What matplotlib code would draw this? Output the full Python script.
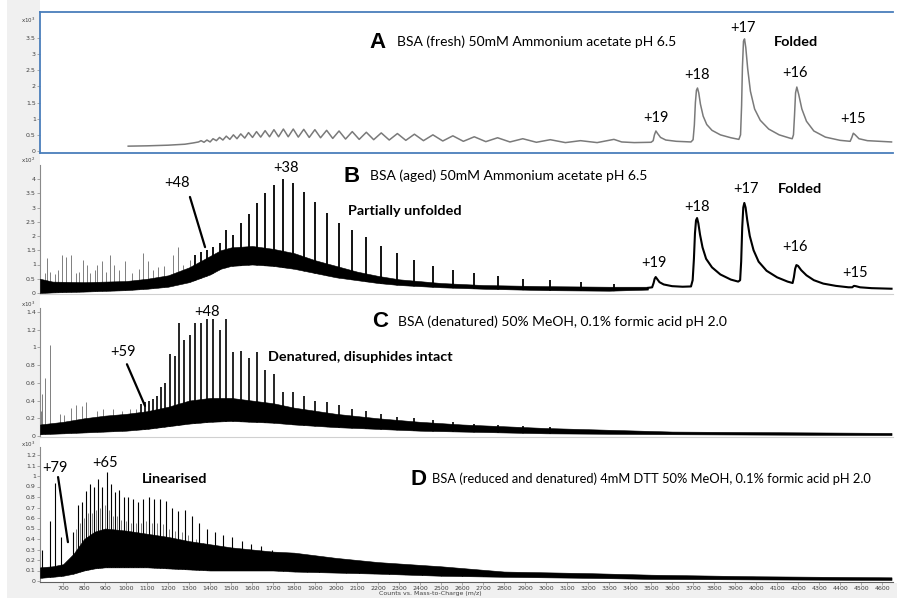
import matplotlib
matplotlib.use('Agg')
import matplotlib.pyplot as plt
from matplotlib.patches import Rectangle
from matplotlib.ticker import FuncFormatter

# ---------------- data ----------------
# A: fresh BSA, smooth trace (m/z, counts x10^3)
a_mz = [1010, 1100, 1200, 1280, 1320, 1345,
        1357, 1371, 1385, 1400, 1414, 1430, 1445, 1461, 1477, 1494, 1511, 1528,
        1546, 1565, 1583, 1602, 1621, 1641, 1662, 1683, 1704, 1726, 1749, 1772,
        1796, 1820, 1846, 1872, 1899, 1926, 1955, 1984, 2014, 2045, 2077, 2110,
        2144, 2179, 2215, 2253, 2292, 2332, 2373, 2416, 2461, 2508, 2556, 2606,
        2658, 2713, 2769, 2828, 2889, 2954, 3020, 3092, 3164, 3243, 3323, 3360,
        3420, 3500, 3510, 3516, 3523, 3530, 3545, 3570, 3620, 3690, 3700, 3706,
        3711, 3716, 3721, 3727, 3735, 3748, 3765, 3790, 3830, 3880, 3918, 3926,
        3931, 3935, 3940, 3945, 3951, 3960, 3973, 3993, 4020, 4060, 4110, 4160,
        4172, 4178, 4183, 4188, 4194, 4203, 4218, 4240, 4275, 4330, 4400, 4448,
        4456, 4463, 4472, 4490, 4530, 4645]
a_int = [0.15, 0.16, 0.18, 0.21, 0.25, 0.28,
         0.32, 0.27, 0.34, 0.28, 0.38, 0.32, 0.42, 0.34, 0.46, 0.36, 0.5, 0.38,
         0.53, 0.4, 0.57, 0.42, 0.6, 0.43, 0.63, 0.44, 0.66, 0.44, 0.68, 0.44,
         0.68, 0.43, 0.67, 0.42, 0.66, 0.41, 0.64, 0.39, 0.62, 0.37, 0.6, 0.36,
         0.58, 0.35, 0.56, 0.34, 0.54, 0.33, 0.52, 0.32, 0.5, 0.31, 0.47, 0.3,
         0.44, 0.29, 0.41, 0.28, 0.38, 0.27, 0.35, 0.26, 0.32, 0.26, 0.36, 0.28,
         0.26, 0.27, 0.32, 0.5, 0.62, 0.55, 0.42, 0.34, 0.3, 0.28, 0.35, 0.8,
         1.5, 1.88, 1.95, 1.8, 1.45, 1.08, 0.82, 0.64, 0.5, 0.41, 0.36, 0.5,
         1.4, 2.6, 3.4, 3.47, 3.2, 2.55, 1.85, 1.3, 0.95, 0.68, 0.5, 0.4,
         0.38, 0.5, 1.1, 1.8, 1.98, 1.75, 1.3, 0.92, 0.62, 0.43, 0.33, 0.3,
         0.42, 0.55, 0.5, 0.38, 0.32, 0.28]

# B: aged BSA (counts x10^2)
b_band_mz = [590, 650, 800, 1000, 1100, 1200, 1300, 1400, 1450, 1500, 1600, 1700,
             1800, 1900, 2000, 2100, 2200, 2300, 2500, 2700, 3000, 3300, 3485]
b_band_lo = [0.0, 0.02, 0.05, 0.1, 0.15, 0.22, 0.38, 0.65, 0.85, 0.95, 1.0, 0.95,
             0.85, 0.7, 0.55, 0.45, 0.35, 0.28, 0.2, 0.15, 0.1, 0.08, 0.12]
b_band_hi = [0.5, 0.4, 0.38, 0.42, 0.5, 0.62, 0.9, 1.3, 1.5, 1.6, 1.65, 1.55,
             1.4, 1.15, 0.95, 0.75, 0.6, 0.48, 0.35, 0.28, 0.24, 0.22, 0.22]
b_ladder_mz = [1330, 1357, 1385, 1414, 1445, 1477, 1511, 1546, 1583, 1621, 1662,
               1704, 1749, 1796, 1846, 1899, 1955, 2014, 2077, 2144, 2215, 2292,
               2373, 2461, 2556, 2658, 2769, 2889, 3020, 3164, 3323]
b_ladder_h = [1.35, 1.45, 1.5, 1.6, 1.75, 2.2, 2.05, 2.46, 2.77, 3.16, 3.5,
              3.79, 4.0, 3.86, 3.55, 3.2, 2.8, 2.45, 2.2, 1.95, 1.65, 1.4,
              1.15, 0.95, 0.8, 0.7, 0.6, 0.5, 0.45, 0.38, 0.3]
b_spike_mz = [600, 612, 624, 640, 660, 676, 695, 714, 738, 760, 776, 795, 814,
              830, 850, 862, 886, 905, 924, 943, 965, 995, 1030, 1060, 1081,
              1105, 1130, 1150, 1180, 1224, 1248, 1270, 1305, 1324]
b_spike_h = [0.45, 0.7, 1.23, 0.75, 0.65, 0.8, 1.33, 1.27, 1.33, 0.7, 0.75, 1.16,
             1.0, 0.7, 0.8, 1.0, 1.12, 0.75, 1.33, 1.0, 0.8, 1.12, 0.7, 0.85,
             1.4, 1.12, 0.8, 0.9, 0.95, 1.35, 1.6, 1.0, 1.16, 1.13]
b_fold_mz = [3485, 3505, 3512, 3517, 3522, 3528, 3540, 3560, 3600, 3650, 3690,
             3698, 3704, 3709, 3714, 3719, 3725, 3733, 3745, 3762, 3790, 3830,
             3880, 3915, 3924, 3929, 3934, 3939, 3944, 3950, 3958, 3970, 3988,
             4012, 4050, 4100, 4150, 4174, 4180, 4186, 4192, 4200, 4215, 4240,
             4275, 4320, 4380, 4440, 4458, 4466, 4475, 4495, 4550, 4645]
b_fold_int = [0.18, 0.2, 0.35, 0.5, 0.56, 0.5, 0.38, 0.3, 0.24, 0.22, 0.23,
              0.45, 1.2, 2.1, 2.55, 2.63, 2.45, 2.05, 1.6, 1.2, 0.9, 0.65,
              0.47, 0.4, 0.45, 1.1, 2.3, 3.0, 3.16, 3.0, 2.55, 2.0, 1.5,
              1.1, 0.78, 0.55, 0.4, 0.35, 0.55, 0.85, 0.98, 0.95, 0.8, 0.62,
              0.45, 0.33, 0.25, 0.2, 0.2, 0.25, 0.24, 0.2, 0.17, 0.15]

# C: denatured BSA (counts x10^3)
c_band_mz = [590, 700, 800, 900, 1000, 1100, 1200, 1300, 1400, 1500, 1600, 1700,
             1800, 2000, 2200, 2400, 2600, 2800, 3000, 3300, 3600, 4645]
c_band_lo = [0.02, 0.03, 0.04, 0.05, 0.06, 0.08, 0.11, 0.14, 0.16, 0.17, 0.16,
             0.15, 0.13, 0.1, 0.08, 0.06, 0.05, 0.04, 0.03, 0.025, 0.02, 0.01]
c_band_hi = [0.13, 0.16, 0.2, 0.23, 0.25, 0.28, 0.33, 0.4, 0.43, 0.43, 0.4,
             0.37, 0.32, 0.25, 0.2, 0.16, 0.13, 0.11, 0.09, 0.07, 0.05, 0.035]
c_ladder_mz = [1072, 1090, 1108, 1127, 1146, 1166, 1187, 1209, 1231, 1254, 1278,
               1304, 1330, 1357, 1385, 1414, 1445, 1477, 1511, 1546, 1583, 1621,
               1662, 1704, 1749, 1796, 1846, 1899, 1955, 2014, 2077, 2144, 2215,
               2292, 2373, 2461, 2556, 2658, 2769, 2889, 3020]
c_ladder_h = [0.36, 0.38, 0.4, 0.42, 0.45, 0.55, 0.6, 0.93, 0.9, 1.28, 1.08,
              1.14, 1.27, 1.27, 1.32, 1.32, 1.2, 1.32, 0.95, 0.96, 0.88, 0.95,
              0.75, 0.7, 0.5, 0.5, 0.45, 0.4, 0.38, 0.35, 0.3, 0.28, 0.25,
              0.22, 0.2, 0.18, 0.16, 0.14, 0.12, 0.11, 0.1]
c_spike_mz = [592, 596, 598, 616, 640, 686, 705, 738, 762, 790, 810, 862, 890,
              938, 981, 1019, 1045]
c_spike_h = [1.22, 0.28, 0.47, 0.66, 1.03, 0.25, 0.24, 0.32, 0.35, 0.34, 0.38,
             0.28, 0.3, 0.3, 0.28, 0.3, 0.3]

# D: reduced + denatured BSA (counts x10^3)
d_band_mz = [590, 650, 700, 750, 800, 850, 900, 1000, 1100, 1200, 1300, 1400,
             1500, 1600, 1700, 1800, 2000, 2200, 2500, 2800, 3200, 3500, 4000, 4645]
d_band_lo = [0.03, 0.04, 0.05, 0.07, 0.1, 0.12, 0.13, 0.13, 0.13, 0.12, 0.11, 0.1,
             0.1, 0.1, 0.1, 0.09, 0.08, 0.07, 0.05, 0.04, 0.03, 0.02, 0.015, 0.01]
d_band_hi = [0.13, 0.14, 0.16, 0.26, 0.4, 0.47, 0.5, 0.48, 0.45, 0.42, 0.38, 0.35,
             0.32, 0.3, 0.28, 0.27, 0.22, 0.18, 0.14, 0.09, 0.075, 0.06, 0.045, 0.035]
d_ladder_mz = [600, 638, 662, 690, 748, 771, 790, 810, 829, 848, 867, 886, 910,
               929, 948, 967, 990, 1010, 1033, 1057, 1081, 1110, 1133, 1162, 1190,
               1219, 1248, 1281, 1314, 1348, 1386, 1424, 1462, 1505, 1552, 1595,
               1643, 1695, 1748, 1805, 1860, 1920, 1980, 2045, 2110, 2180, 2250,
               2330, 2410, 2500, 2600, 2700]
d_ladder_h = [0.3, 0.57, 0.93, 0.42, 0.47, 0.72, 0.75, 0.86, 0.92, 0.9, 0.97, 0.9,
              1.04, 0.92, 0.85, 0.87, 0.8, 0.8, 0.78, 0.75, 0.78, 0.8, 0.78, 0.78,
              0.76, 0.7, 0.67, 0.68, 0.62, 0.55, 0.5, 0.47, 0.44, 0.42, 0.38, 0.35,
              0.33, 0.3, 0.27, 0.25, 0.24, 0.22, 0.21, 0.2, 0.18, 0.17, 0.16, 0.15,
              0.13, 0.12, 0.11, 0.1]
d_minor_mz = [760, 780, 800, 820, 838, 857, 876, 898, 919, 938, 958, 978, 1000,
              1021, 1045, 1069, 1095, 1121, 1147, 1176, 1204, 1233, 1264, 1297,
              1331, 1367, 1405, 1443, 1483, 1528, 1573, 1619, 1669, 1721, 1776]
d_minor_h = [0.5, 0.55, 0.6, 0.65, 0.65, 0.68, 0.7, 0.72, 0.68, 0.62, 0.62, 0.58,
             0.57, 0.55, 0.55, 0.55, 0.57, 0.55, 0.55, 0.54, 0.5, 0.48, 0.47,
             0.44, 0.4, 0.36, 0.34, 0.32, 0.3, 0.28, 0.26, 0.24, 0.23, 0.21, 0.2]

x_ticks = list(range(700, 4700, 100))

# ---------------- layout ----------------
W, H = 897, 598
fig = plt.figure(figsize=(W / 100, H / 100), dpi=100)
fig.patch.set_facecolor('white')

# grey window background of the instrument software
fig.add_artist(Rectangle((7 / W, 0), 33 / W, 1, transform=fig.transFigure,
                         facecolor='#f0f0f0', edgecolor='none', zorder=-5))
fig.add_artist(Rectangle((7 / W, 0), 1, 15 / H, transform=fig.transFigure,
                         facecolor='#f0f0f0', edgecolor='none', zorder=-5))


def make_axes(top, bottom, zero_px, unit_px):
    ax = fig.add_axes([40 / W, 1 - bottom / H, (893 - 40) / W, (bottom - top) / H])
    ax.set_xlim(590, 4652)
    ax.set_ylim(-(bottom - zero_px) / unit_px, (zero_px - top) / unit_px)
    ax.spines['top'].set_visible(False)
    ax.spines['right'].set_visible(False)
    ax.spines['left'].set_color('#8a8a8a')
    ax.spines['left'].set_linewidth(0.8)
    ax.spines['bottom'].set_color('#d0d0d0')
    ax.spines['bottom'].set_linewidth(0.8)
    ax.tick_params(axis='y', labelsize=4.5, length=2, width=0.5, pad=1,
                   colors='#8a8a8a', labelcolor='#404040')
    ax.tick_params(axis='x', bottom=False, labelbottom=False)
    ax.yaxis.set_major_formatter(FuncFormatter(lambda v, p: '%g' % round(v, 2)))
    return ax


axA = make_axes(12, 153, 151, 32.3)
axB = make_axes(165, 294, 293, 28.5)
axC = make_axes(308, 437, 436, 88.6)
axD = make_axes(447, 582, 581, 105)

axA.set_yticks([0, 0.5, 1, 1.5, 2, 2.5, 3, 3.5])
axB.set_yticks([0, 0.5, 1, 1.5, 2, 2.5, 3, 3.5, 4])
axC.set_yticks([0, 0.2, 0.4, 0.6, 0.8, 1.0, 1.2, 1.4])
axD.set_yticks([0, 0.1, 0.2, 0.3, 0.4, 0.5, 0.6, 0.7, 0.8, 0.9, 1.0, 1.1, 1.2])

# "x10^n" scale labels, just above the top tick
for top, sc in [(20, '3'), (160, '2'), (304, '3'), (444, '3')]:
    fig.text(35 / W, 1 - top / H, 'x10$^{%s}$' % sc, ha='right', va='center',
             fontsize=4, color='#404040')

# selected panel frame
for s in ['left', 'top', 'bottom']:
    axA.spines[s].set_visible(True)
    axA.spines[s].set_color('#4a7ebb')
    axA.spines[s].set_linewidth(1.3)

# bottom axis
axD.tick_params(axis='x', bottom=True, labelbottom=True, labelsize=4.5, length=2,
                width=0.5, pad=1, colors='#8a8a8a', labelcolor='#404040')
axD.set_xticks(x_ticks)
axD.spines['bottom'].set_color('#606060')
fig.text(430 / W, 1 - 594 / H, 'Counts vs. Mass-to-Charge (m/z)', fontsize=4.5,
         color='#404040', ha='center', va='center')

# ---------------- spectra ----------------
axA.plot(a_mz, a_int, color='#7a7a7a', lw=1.1, zorder=3)


def dense(ax, band_mz, lo, hi, sp_mz, sp_h, lad_mz, lad_h, lad_lw=1.1):
    ax.vlines(sp_mz, 0, sp_h, color='#6a6a6a', lw=0.6, zorder=1)
    ax.vlines(lad_mz, 0, lad_h, color='black', lw=lad_lw, zorder=1)
    ax.fill_between(band_mz, -1, lo, color='white', lw=0, zorder=2)
    ax.fill_between(band_mz, lo, hi, color='black', lw=0.4, zorder=3)


dense(axB, b_band_mz, b_band_lo, b_band_hi, b_spike_mz, b_spike_h,
      b_ladder_mz, b_ladder_h, 1.3)
axB.plot(b_fold_mz, b_fold_int, color='black', lw=1.5, zorder=3)
dense(axC, c_band_mz, c_band_lo, c_band_hi, c_spike_mz, c_spike_h,
      c_ladder_mz, c_ladder_h, 1.2)
dense(axD, d_band_mz, d_band_lo, d_band_hi, d_minor_mz, d_minor_h,
      d_ladder_mz, d_ladder_h, 0.8)

# ---------------- annotations ----------------
LF = 'Lato'
BIG = dict(fontsize=16, fontweight='bold', family='Liberation Sans', va='center')
TXT = dict(fontsize=10, family=LF, va='center')
LAB = dict(fontsize=10.5, family=LF, va='center', ha='center')
BOLD = dict(fontsize=10.4, family=LF, fontweight='bold', va='center')
LINE = dict(arrowstyle='-', lw=1.6, color='black', shrinkA=0, shrinkB=0)

axA.text(2157, 3.37, 'A', **BIG)
axA.text(2290, 3.37, 'BSA (fresh) 50mM Ammonium acetate pH 6.5', **TXT)
axA.text(3938, 3.81, '+17', **LAB)
axA.text(4085, 3.37, 'Folded', **BOLD)
axA.text(3719, 2.35, '+18', **LAB)
axA.text(4185, 2.41, '+16', **LAB)
axA.text(3523, 1.02, '+19', **LAB)
axA.text(4461, 0.99, '+15', **LAB)

axB.text(2033, 4.1, 'B', **BIG)
axB.text(2161, 4.1, 'BSA (aged) 50mM Ammonium acetate pH 6.5', **TXT)
axB.text(1761, 4.39, '+38', **LAB)
axB.text(1242, 3.86, '+48', **LAB)
axB.annotate('', xy=(1376, 1.61), xytext=(1304, 3.37), arrowprops=LINE)
axB.text(2057, 2.88, 'Partially unfolded', **BOLD)
axB.text(3719, 3.02, '+18', **LAB)
axB.text(3952, 3.65, '+17', **LAB)
axB.text(4104, 3.65, 'Folded', **BOLD)
axB.text(3514, 1.05, '+19', **LAB)
axB.text(4185, 1.61, '+16', **LAB)
axB.text(4471, 0.70, '+15', **LAB)

axC.text(2171, 1.29, 'C', **BIG)
axC.text(2295, 1.29, 'BSA (denatured) 50% MeOH, 0.1% formic acid pH 2.0', **TXT)
axC.text(1385, 1.40, '+48', **LAB)
axC.text(985, 0.95, '+59', **LAB)
axC.annotate('', xy=(1090, 0.34), xytext=(1004, 0.81), arrowprops=LINE)
axC.text(1676, 0.89, 'Denatured, disuphides intact', **BOLD)

axD.text(2352, 0.97, 'D', **BIG)
axD.text(2457, 0.97, 'BSA (reduced and denatured) 4mM DTT 50% MeOH, 0.1% formic acid pH 2.0',
         fontsize=9.3, family=LF, va='center')
axD.text(661, 1.08, '+79', **LAB)
axD.annotate('', xy=(723, 0.37), xytext=(676, 0.99), arrowprops=LINE)
axD.text(900, 1.12, '+65', **LAB)
axD.text(1076, 0.97, 'Linearised', **BOLD)

for ax in (axA, axB, axC, axD):
    for t in ax.texts:
        t.set_clip_on(False)

fig.savefig('out.png', dpi=100)
